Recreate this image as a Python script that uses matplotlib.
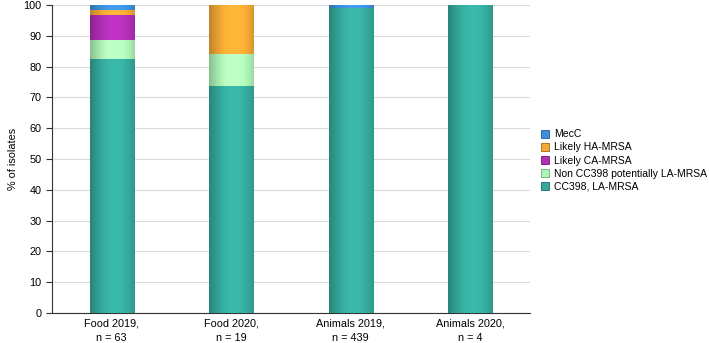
import matplotlib
matplotlib.use("Agg")
import matplotlib.pyplot as plt
import numpy as np

plt.rcParams['font.family'] = ['Liberation Sans', 'DejaVu Sans']

categories = ["Food 2019,\nn = 63", "Food 2020,\nn = 19", "Animals 2019,\nn = 439", "Animals 2020,\nn = 4"]
series_names = ["CC398, LA-MRSA", "Non CC398 potentially LA-MRSA", "Likely CA-MRSA", "Likely HA-MRSA", "MecC"]
cc398 = [82.5, 73.7, 99.1, 100.0]
non_cc398 = [6.3, 10.5, 0.0, 0.0]
likely_ca = [7.9, 0.0, 0.0, 0.0]
likely_ha = [1.6, 15.8, 0.0, 0.0]
mecc = [1.7, 0.0, 0.9, 0.0]
colors = ["#35a99c", "#aef2b6", "#b02fb5", "#f2a834", "#3c8fdc"]
edges = ["#1f6e66", "#6fae76", "#6e1a72", "#a56a14", "#235c95"]

fig = plt.figure(figsize=(7.09, 3.43), dpi=100)
ax = fig.add_axes([0.0733, 0.0875, 0.6742, 0.8975])

x = np.arange(len(categories))
data = [cc398, non_cc398, likely_ca, likely_ha, mecc]
bottom = np.zeros(len(categories))
handles = []
grad = np.linspace(0, 1, 256)
for vals, name, c, ec in zip(data, series_names, colors, edges):
    vals = np.array(vals)
    bars = ax.bar(x, vals, width=0.37, bottom=bottom, color=c, edgecolor=ec, linewidth=0.6, label=name, zorder=3)
    handles.append(bars)
    rgb = np.array(matplotlib.colors.to_rgb(c))
    for b, v in zip(bars, vals):
        if v <= 0:
            continue
        img = np.clip(rgb[None, :] * (0.72 + 0.38 * np.sin(np.pi * (0.05 + 0.8 * grad)))[:, None], 0, 1)
        img = img[None, :, :]
        x0, y0 = b.get_x(), b.get_y()
        im = ax.imshow(img, extent=[x0, x0 + b.get_width(), y0, y0 + b.get_height()],
                       aspect='auto', zorder=3.5, interpolation='bilinear')
        im.set_clip_path(b)
    bottom += vals

ax.set_xlim(-0.5, 3.5)
ax.set_ylim(0, 100)
ax.set_yticks(np.arange(0, 101, 10))
ax.set_xticks(x)
ax.set_xticklabels(categories, fontsize=7.8, linespacing=1.5)
ax.tick_params(axis='y', labelsize=7.8, length=4, color='#333333')
ax.tick_params(axis='x', length=0, pad=4)
ax.yaxis.grid(True, color='#d9d9d9', linewidth=0.8, zorder=0)
ax.set_axisbelow(True)
for s in ['top', 'right']:
    ax.spines[s].set_visible(False)
ax.spines['left'].set_color('#333333')
ax.spines['bottom'].set_color('#333333')
ax.set_ylabel("% of isolates", fontsize=7.8, labelpad=4)

leg = fig.legend(handles[::-1], series_names[::-1], loc='upper left', bbox_to_anchor=(0.757, 0.635),
                 frameon=False, fontsize=7.5, handlelength=0.8, handleheight=0.8,
                 handletextpad=0.5, labelspacing=0.3, borderaxespad=0)

fig.savefig("out.png", dpi=100)
